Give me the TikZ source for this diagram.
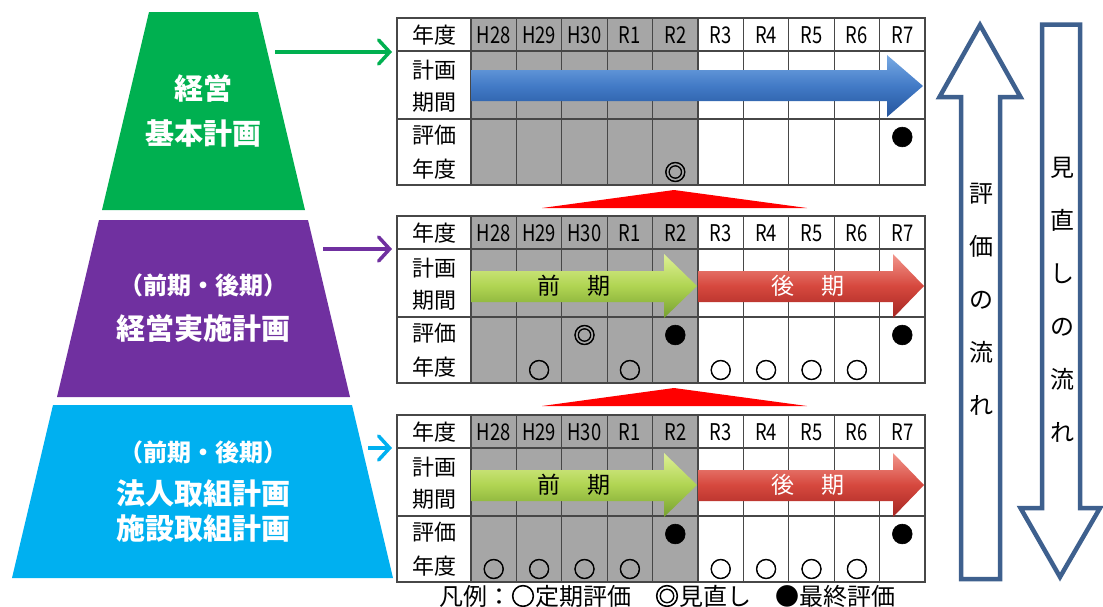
\documentclass[tikz,border=0pt]{standalone}
\usepackage{fontspec}
\setmainfont{Noto Sans CJK JP}
\newfontfamily\narrowfont{Noto Sans CJK JP}[FakeStretch=0.8]
\newfontfamily\symfont{Noto Sans CJK JP}[FakeBold=2.5]
\usetikzlibrary{arrows.meta}
\definecolor{cgreen}{HTML}{00B050}
\definecolor{cpurple}{HTML}{7030A0}
\definecolor{ccyan}{HTML}{00B0F0}
\definecolor{cellgray}{HTML}{A6A6A6}
\definecolor{flowblue}{RGB}{62,96,142}
\definecolor{blueA}{RGB}{120,170,228}
\definecolor{blueB}{RGB}{66,122,198}
\definecolor{blueC}{RGB}{36,84,156}
\definecolor{greenA}{RGB}{222,240,150}
\definecolor{greenB}{RGB}{176,212,82}
\definecolor{greenC}{RGB}{118,160,48}
\definecolor{redA}{RGB}{242,150,140}
\definecolor{redB}{RGB}{214,72,62}
\definecolor{redC}{RGB}{165,38,34}
\tikzset{
  gridline/.style={draw=black!72, line width=1.2pt},
  hdr/.style={font=\narrowfont\fontsize{23}{24}\selectfont, inner sep=0pt},
  lbl/.style={font=\fontsize{22}{24}\selectfont, inner sep=0pt},
  sym/.style={font=\symfont\fontsize{22}{24}\selectfont, inner sep=0pt},
  ttl/.style={font=\bfseries\fontsize{29}{32}\selectfont, text=white, inner sep=0pt},
  ptl/.style={font=\bfseries\fontsize{24}{28}\selectfont, text=white, inner sep=0pt},
  arrtxt/.style={font=\fontsize{23}{26}\selectfont, inner sep=0pt},
  vtxt/.style={font=\fontsize{24}{53}\selectfont, align=center, inner sep=0pt},
  legendtxt/.style={font=\fontsize{24}{26}\selectfont, inner sep=0pt},
  conn/.style={line width=3.5pt, -{Straight Barb[length=11pt,width=24pt,line cap=round]}, shorten >=5pt},
  flowarr/.style={draw=flowblue, line width=4.5pt, fill=white, miter limit=10},
  bluearr/.style={top color=blueA, bottom color=blueC, middle color=blueB},
  greenarr/.style={top color=greenA, bottom color=greenC, middle color=greenB},
  redarr/.style={top color=redA, bottom color=redC, middle color=redB},
}
\begin{document}
\begin{tikzpicture}[x=1pt,y=-1pt]
\useasboundingbox (0,0) rectangle (1103,606);
% pyramid
\fill[cgreen] (149,12) -- (258,12) -- (305,210) -- (102,210) -- cycle;
\fill[cpurple] (99,220) -- (308,220) -- (350,397) -- (57,397) -- cycle;
\fill[ccyan] (53,405) -- (352,405) -- (393,578) -- (12,578) -- cycle;
\node[ttl] (kk1) at (203,88) {経営};
\node[ttl] (kk2) at (203,133) {基本計画};
\node[ptl] (jk1) at (203,285) {（前期・後期）};
\node[ttl] (jk2) at (203,328) {経営実施計画};
\node[ptl] (tk1) at (203,452) {（前期・後期）};
\node[ttl] (tk2) at (203,493) {法人取組計画};
\node[ttl] (tk3) at (203,528) {施設取組計画};
% tables
\foreach \k/\T in {1/18,2/216,3/415}{
  \node[inner sep=0pt, minimum width=528pt, minimum height=167pt, anchor=north west] (tab\k) at (397,\T) {};
  \fill[cellgray] (471,\T) rectangle (698,{\T+167});
  \draw[gridline] (397,\T) rectangle (925,{\T+167});
  \draw[gridline] (397,{\T+33}) -- (925,{\T+33}) (397,{\T+101}) -- (925,{\T+101});
  \foreach \i in {0,...,9} \draw[gridline] ({471+45.4*\i},\T) -- ({471+45.4*\i},{\T+167});
  \node[lbl] (t\k-nd) at (434,{\T+17}) {年度};
  \node[lbl] (t\k-kk) at (434,{\T+52}) {計画};
  \node[lbl] (t\k-kn) at (434,{\T+84}) {期間};
  \node[lbl] (t\k-hk) at (434,{\T+117}) {評価};
  \node[lbl] (t\k-hn) at (434,{\T+151}) {年度};
  \foreach \y [count=\i from 0] in {H28,H29,H30,R1,R2,R3,R4,R5,R6,R7}
    \node[hdr] (t\k-\y) at ({493.7+45.4*\i},{\T+17}) {\y};
}
% plan arrows
\shade[bluearr] (471,70) -- (887,70) -- (887,55) -- (923,86) -- (887,117) -- (887,101) -- (471,101) -- cycle;
\foreach \k/\T in {2/216,3/415}{
  \shade[greenarr] (471,{\T+55}) -- (664,{\T+55}) -- (664,{\T+38}) -- (697,{\T+70}) -- (664,{\T+102}) -- (664,{\T+86}) -- (471,{\T+86}) -- cycle;
  \shade[redarr] (698,{\T+55}) -- (893,{\T+55}) -- (893,{\T+38}) -- (924,{\T+70}) -- (893,{\T+102}) -- (893,{\T+86}) -- (698,{\T+86}) -- cycle;
  \node[arrtxt] (t\k-zen) at (574,{\T+70}) {前\hspace{1.2em}期};
  \node[arrtxt, text=white] (t\k-kou) at (808,{\T+70}) {後\hspace{1.2em}期};
}
% symbols
\foreach \i/\dy/\s [count=\n] in {4/154/◎,9/119/●}
  \node[sym] (s1-\n) at ({493.7+45.4*\i},{18+\dy}) {\s};
\foreach \i/\dy/\s [count=\n] in {2/119/◎,4/119/●,9/119/●,1/154/○,3/154/○,5/154/○,6/154/○,7/154/○,8/154/○}
  \node[sym] (s2-\n) at ({493.7+45.4*\i},{216+\dy}) {\s};
\foreach \i/\dy/\s [count=\n] in {4/119/●,9/119/●,0/154/○,1/154/○,2/154/○,3/154/○,5/154/○,6/154/○,7/154/○,8/154/○}
  \node[sym] (s3-\n) at ({493.7+45.4*\i},{415+\dy}) {\s};
% red triangles
\fill[red] (674,190) -- (807,208) -- (542,208) -- cycle;
\fill[red] (674,388) -- (807,406) -- (542,406) -- cycle;
% connectors
\coordinate (gsrc) at (275,52);
\coordinate (psrc) at (323,249);
\coordinate (csrc) at (368,448);
\draw[conn, cgreen] (gsrc) -- (gsrc -| tab1.west);
\draw[conn, cpurple] (psrc) -- (psrc -| tab2.west);
\draw[conn, ccyan] (csrc) -- (csrc -| tab3.west);
% flow arrows
\draw[flowarr] (980,25) -- (1020.5,97) -- (1000,97) -- (1000,579) -- (961,579) -- (961,97) -- (939.5,97) -- cycle;
\draw[flowarr] (1042,24.5) -- (1080,24.5) -- (1080,508) -- (1100,508) -- (1060,577) -- (1020.5,508) -- (1042,508) -- cycle;
\node[vtxt] (evalflow) at (981,299) {評\\価\\の\\流\\れ};
\node[vtxt] (revflow) at (1062,300) {見\\直\\し\\の\\流\\れ};
% legend
\node[legendtxt] (legend) at (667,596) {凡例：{\symfont ○}定期評価　{\symfont ◎}見直し　●最終評価};
\end{tikzpicture}
\end{document}
